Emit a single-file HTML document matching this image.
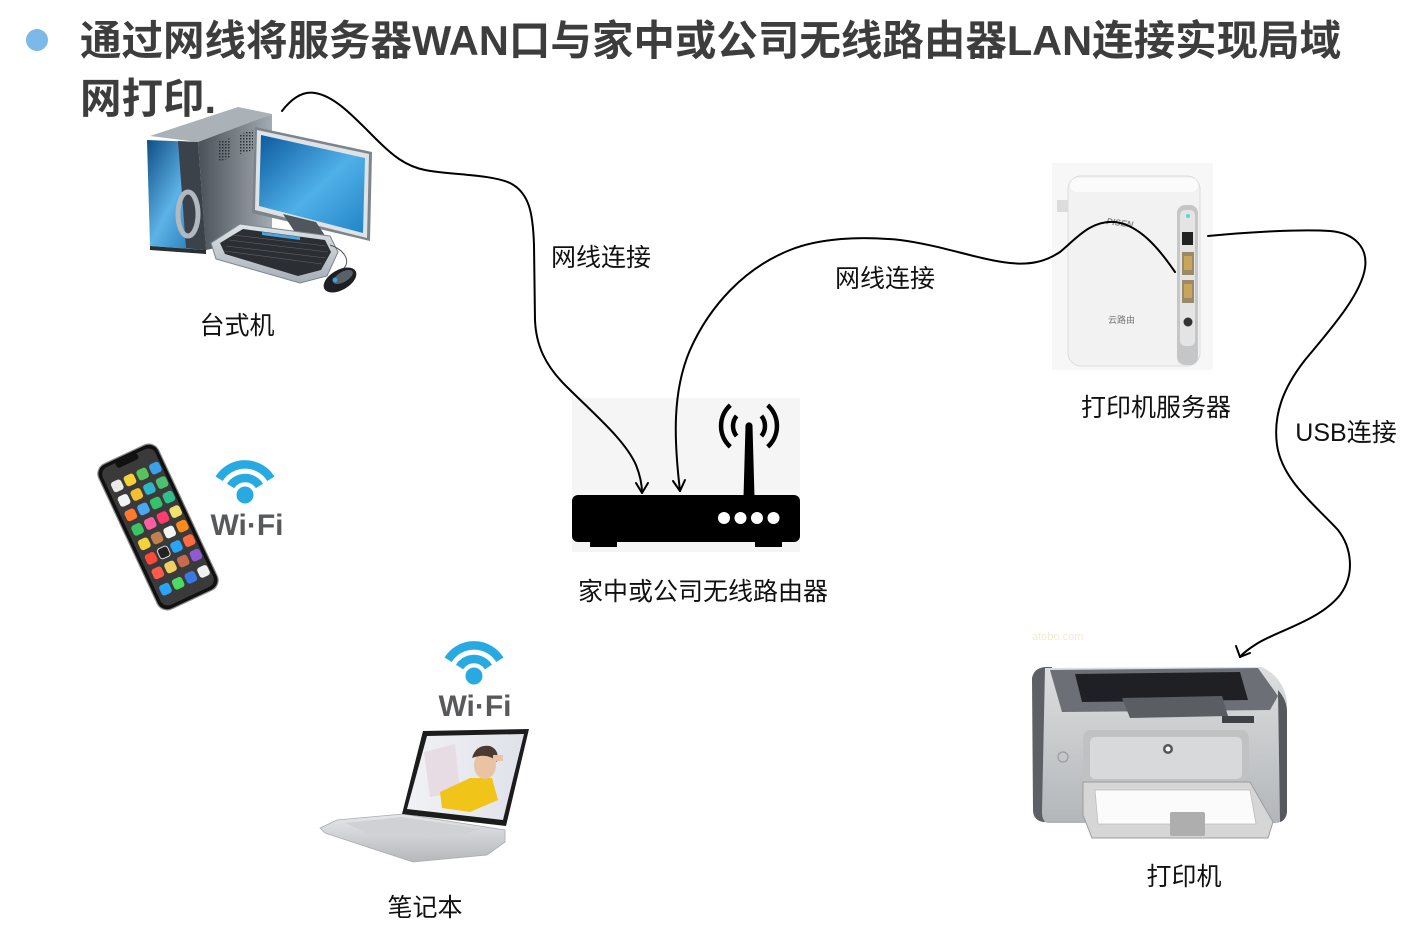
<!DOCTYPE html>
<html><head><meta charset="utf-8">
<style>
html,body{margin:0;padding:0;background:#fff;}
body{width:1411px;height:938px;position:relative;overflow:hidden;}
.title{position:absolute;left:80px;top:12px;font-family:"Liberation Sans","Noto Sans CJK SC",sans-serif;font-weight:bold;font-size:41.5px;line-height:58px;color:#3d3d3d;white-space:nowrap;}
.bullet{position:absolute;left:26px;top:29px;width:22px;height:22px;border-radius:50%;background:#7cb9e8;}
svg{position:absolute;left:0;top:0;}
</style></head>
<body>
<div class="bullet"></div>
<div class="title">通过网线将服务器WAN口与家中或公司无线路由器LAN连接实现局域<br>网打印.</div>
<svg width="1411" height="938" viewBox="0 0 1411 938" xmlns="http://www.w3.org/2000/svg">
<defs>
  <linearGradient id="tSide" x1="0" y1="0" x2="1" y2="0"><stop offset="0" stop-color="#4a5158"/><stop offset="1" stop-color="#a3abb2"/></linearGradient>
  <linearGradient id="tFront" x1="0" y1="0" x2="1" y2="1"><stop offset="0" stop-color="#0f4e85"/><stop offset="0.5" stop-color="#5db2e6"/><stop offset="1" stop-color="#1a6cab"/></linearGradient>
  <linearGradient id="scr" x1="0" y1="0" x2="1" y2="1"><stop offset="0" stop-color="#0c5a9e"/><stop offset="0.55" stop-color="#4fb0e8"/><stop offset="1" stop-color="#2384c6"/></linearGradient>
  <linearGradient id="kbd" x1="0" y1="0" x2="0" y2="1"><stop offset="0" stop-color="#dfe4e8"/><stop offset="1" stop-color="#a6aeb6"/></linearGradient>
  <linearGradient id="pBody" x1="0" y1="0" x2="0" y2="1"><stop offset="0" stop-color="#dcdedf"/><stop offset="1" stop-color="#b3b6b9"/></linearGradient>
  <linearGradient id="lBase" x1="0" y1="0" x2="0" y2="1"><stop offset="0" stop-color="#e6e7ea"/><stop offset="1" stop-color="#b6b8bc"/></linearGradient>
  <linearGradient id="lScr" x1="0" y1="0" x2="1" y2="0"><stop offset="0" stop-color="#f1f2f5"/><stop offset="1" stop-color="#dfe2e9"/></linearGradient>
  <pattern id="vent" width="3" height="3" patternUnits="userSpaceOnUse"><rect width="1.5" height="1.5" fill="#2e3338"/></pattern>
</defs>

<!-- ===== Desktop ===== -->
<g>
  <polygon points="150,136 238,107 272,114 198,142" fill="#aab1b7"/>
  <polygon points="198,142 272,114 272,236 206,250" fill="url(#tSide)"/>
  <polygon points="218,142 230,138 230,158 218,162" fill="url(#vent)"/>
  <polygon points="240,134 253,130 253,150 240,154" fill="url(#vent)"/>
  <polygon points="147,140 198,142 206,250 150,246" fill="url(#tFront)"/>
  <polygon points="178,141 198,142 206,250 186,248" fill="#3b4249"/>
  <ellipse cx="188" cy="214" rx="10" ry="22" fill="none" stroke="#b0b8c0" stroke-width="5"/>
  <polygon points="150,246 206,250 206,254 150,250" fill="#2a2f34"/>
  <!-- monitor -->
  <polygon points="255,127 372,152 370,241 252,213" fill="#7d848b"/>
  <polygon points="257,130 369,154 367,238 255,210" fill="#dfe3e6"/>
  <polygon points="261,135 365,158 363,233 259,206" fill="url(#scr)"/>
  <polygon points="283,214 316,222 328,240 300,240" fill="#50565c"/>
  <!-- keyboard -->
  <polygon points="211,243 240,224 330,236 338,252 327,276 300,283 216,259" fill="url(#kbd)" stroke="#7c848c" stroke-width="1"/>
  <polygon points="220,243 243,229 325,240 331,252 321,270 298,276 225,254" fill="#2b2e33"/>
  <polygon points="262,232 300,237 300,240 262,235" fill="#4aa6e0"/>
  <g stroke="#5f656c" stroke-width="0.6">
    <line x1="226" y1="246" x2="326" y2="258"/>
    <line x1="229" y1="240" x2="328" y2="252"/>
    <line x1="233" y1="235" x2="326" y2="246"/>
    <line x1="224" y1="251" x2="322" y2="264"/>
  </g>
  <path d="M330,245 C345,250 352,262 342,270" fill="none" stroke="#555" stroke-width="1"/>
  <ellipse cx="340" cy="280" rx="18" ry="10" transform="rotate(-30 340 280)" fill="#1d1f22"/>
  <ellipse cx="343" cy="277" rx="11" ry="5" transform="rotate(-30 343 277)" fill="#5a6068"/>
  <circle cx="335" cy="280" r="2.5" fill="#3aa0e0"/>
</g>

<!-- ===== Router ===== -->
<rect x="572" y="398" width="228" height="154" fill="#f5f5f5"/>
<rect x="572" y="495" width="228" height="47" rx="6" fill="#000"/>
<rect x="590" y="538" width="27" height="9" fill="#000"/>
<rect x="755" y="538" width="27" height="9" fill="#000"/>
<polygon points="745.5,426 752.5,426 754.5,497 743.5,497" fill="#000"/>
<circle cx="749" cy="426" r="3.6" fill="#000"/>
<g fill="none" stroke="#000" stroke-width="4.5">
  <path d="M736.6,415.9 A16,16 0 0 0 736.6,436.1"/>
  <path d="M761.4,415.9 A16,16 0 0 1 761.4,436.1"/>
  <path d="M730.3,405.2 A28,28 0 0 0 730.3,446.8"/>
  <path d="M767.7,405.2 A28,28 0 0 1 767.7,446.8"/>
</g>
<g fill="#fff">
  <circle cx="724" cy="518" r="6"/><circle cx="740.5" cy="518" r="6"/>
  <circle cx="757" cy="518" r="6"/><circle cx="773.5" cy="518" r="6"/>
</g>

<!-- ===== Print server ===== -->
<rect x="1052" y="163" width="161" height="207" fill="#f7f7f7"/>
<rect x="1057" y="200" width="13" height="12" fill="#dcdcdc"/>
<rect x="1068" y="176" width="132" height="190" rx="13" fill="#f2f2f2" stroke="#dcdcdc" stroke-width="1"/>
<rect x="1070" y="178" width="128" height="14" rx="7" fill="#fbfbfb"/>
<rect x="1177" y="205" width="21" height="160" rx="8" fill="#c5c6c8"/>
<rect x="1180" y="210" width="15" height="136" rx="5" fill="#e4e4e4"/>
<circle cx="1188" cy="216" r="2" fill="#5cd6d6"/>
<rect x="1182" y="232" width="11" height="13" fill="#222"/>
<rect x="1182" y="252" width="12" height="23" fill="#9a8a6a"/>
<rect x="1184" y="256" width="8" height="14" fill="#c9a55a"/>
<rect x="1182" y="280" width="12" height="23" fill="#9a8a6a"/>
<rect x="1184" y="284" width="8" height="14" fill="#c9a55a"/>
<circle cx="1188" cy="322" r="4.5" fill="#333"/>
<text x="1106" y="224" font-family="Liberation Sans,sans-serif" font-size="9" font-weight="bold" font-style="italic" fill="#8a8a8a" transform="rotate(8 1106 224)">PISEN</text>
<text x="1108" y="323" font-family="Liberation Sans,Noto Sans CJK SC,sans-serif" font-size="9" fill="#777">云路由</text>

<!-- ===== Phone ===== -->
<g transform="translate(158 527) rotate(-25)">
  <rect x="-33" y="-80" width="66" height="160" rx="11" fill="#111" stroke="#888" stroke-width="1.2"/>
  <rect x="-29" y="-76" width="58" height="152" rx="8" fill="#3a3a3a"/>
  <rect x="-12" y="-77" width="24" height="7" rx="3" fill="#111"/>
  <g>
    <rect x="-25" y="-60" width="11" height="11" rx="3" fill="#eaeaea"/><rect x="-11" y="-60" width="11" height="11" rx="3" fill="#f6d23a"/><rect x="3" y="-60" width="11" height="11" rx="3" fill="#58c35a"/><rect x="17" y="-60" width="11" height="11" rx="3" fill="#3aa0e8"/>
    <rect x="-25" y="-44" width="11" height="11" rx="3" fill="#f3f3f3"/><rect x="-11" y="-44" width="11" height="11" rx="3" fill="#f4c030"/><rect x="3" y="-44" width="11" height="11" rx="3" fill="#2fb5c8"/><rect x="17" y="-44" width="11" height="11" rx="3" fill="#4cc070"/>
    <rect x="-25" y="-28" width="11" height="11" rx="3" fill="#ff7a2a"/><rect x="-11" y="-28" width="11" height="11" rx="3" fill="#4aa8f0"/><rect x="3" y="-28" width="11" height="11" rx="3" fill="#34c26a"/><rect x="17" y="-28" width="11" height="11" rx="3" fill="#2fbf8f"/>
    <rect x="-25" y="-12" width="11" height="11" rx="3" fill="#3cc464"/><rect x="-11" y="-12" width="11" height="11" rx="3" fill="#ff5fa0"/><rect x="3" y="-12" width="11" height="11" rx="3" fill="#ff3b70"/><rect x="17" y="-12" width="11" height="11" rx="3" fill="#f0e070"/>
    <rect x="-25" y="4" width="11" height="11" rx="3" fill="#f6d23a"/><rect x="-11" y="4" width="11" height="11" rx="3" fill="#c08050"/><rect x="3" y="4" width="11" height="11" rx="3" fill="#f5f5f5"/><rect x="17" y="4" width="11" height="11" rx="3" fill="#ff8c1a"/>
    <rect x="-25" y="20" width="11" height="11" rx="3" fill="#ff4a3a"/><rect x="-11" y="20" width="11" height="11" rx="3" fill="#222" stroke="#ddd"/><rect x="3" y="20" width="11" height="11" rx="3" fill="#2aa4f4"/><rect x="17" y="20" width="11" height="11" rx="3" fill="#ff6a40"/>
    <rect x="-25" y="36" width="11" height="11" rx="3" fill="#ff5a4a"/><rect x="-11" y="36" width="11" height="11" rx="3" fill="#f0d060"/><rect x="3" y="36" width="11" height="11" rx="3" fill="#c86a50"/><rect x="17" y="36" width="11" height="11" rx="3" fill="#8e5bd0"/>
    <rect x="-25" y="54" width="11" height="11" rx="3" fill="#2aa4f4"/><rect x="-11" y="54" width="11" height="11" rx="3" fill="#4cd964"/><rect x="3" y="54" width="11" height="11" rx="3" fill="#3a7ae0"/><rect x="17" y="54" width="11" height="11" rx="3" fill="#f0f0f0"/>
  </g>
</g>

<!-- ===== WiFi icons ===== -->
<g fill="none" stroke="#27aae1" stroke-linecap="butt">
  <path d="M219.1,478.8 A30.5,30.5 0 0 1 270.9,478.8" stroke-width="8.5"/>
  <path d="M230.6,486 A17,17 0 0 1 259.4,486" stroke-width="8.5"/>
  <path d="M448.1,659.8 A30.5,30.5 0 0 1 499.9,659.8" stroke-width="8.5"/>
  <path d="M459.6,667 A17,17 0 0 1 488.4,667" stroke-width="8.5"/>
</g>
<circle cx="245" cy="495" r="8.5" fill="#27aae1"/>
<circle cx="474" cy="676" r="8.5" fill="#27aae1"/>
<text x="247" y="535" text-anchor="middle" font-family="Liberation Sans,sans-serif" font-weight="bold" font-size="30" fill="#58595b">Wi·Fi</text>
<text x="475" y="716" text-anchor="middle" font-family="Liberation Sans,sans-serif" font-weight="bold" font-size="30" fill="#58595b">Wi·Fi</text>

<!-- ===== Laptop ===== -->
<polygon points="320,828 337,820 403,814 505,830 505,842 487,855 413,862 325,833" fill="url(#lBase)" stroke="#a9abaf" stroke-width="0.8"/>
<polygon points="345,823 402,817 482,829 445,839 368,834" fill="#cfd1d4"/>
<polygon points="423,731 529,729 506,826 402,814" fill="#1c1c1c"/>
<polygon points="427,736 524,734 503,820 407,809" fill="url(#lScr)"/>
<polygon points="424,752 455,744 460,792 430,797" fill="#e7dbe4"/>
<polygon points="440,792 470,778 492,778 498,800 470,812 442,808" fill="#f0c419"/>
<ellipse cx="485" cy="765" rx="11" ry="14" fill="#e9c3a3"/>
<path d="M472,758 Q476,744 490,746 Q500,750 497,762 Q488,752 472,758 Z" fill="#4a3a30"/>
<rect x="493" y="755" width="10" height="6" fill="#e9c3a3"/>

<!-- ===== Printer ===== -->
<text x="1032" y="640" font-family="Liberation Sans,sans-serif" font-size="11" fill="#f2ecd4">atobo.com</text>
<path d="M1032,678 Q1034,668 1045,667 L1052,667 L1052,822 L1043,822 Q1033,820 1033,810 Z" fill="#5d6065"/>
<path d="M1045,668 L1262,667 Q1284,678 1287,702 L1287,812 Q1286,822 1276,823 L1048,823 Q1042,822 1042,812 Z" fill="url(#pBody)"/>
<path d="M1278,690 Q1287,700 1287,712 L1287,812 Q1286,820 1280,822 Z" fill="#55585d"/>
<polygon points="1050,670 1258,668 1278,696 1270,710 1062,712" fill="#6c7076"/>
<polygon points="1075,674 1240,672 1248,700 1082,702" fill="#1f2023"/>
<polygon points="1122,698 1222,696 1228,716 1130,718" fill="#5a5e63"/>
<rect x="1222" y="716" width="32" height="7" fill="#3e4146"/>
<circle cx="1063" cy="757" r="5" fill="none" stroke="#9a9c9f" stroke-width="1.2"/>
<rect x="1083" y="730" width="166" height="62" rx="8" fill="#bfc1c3"/>
<rect x="1090" y="737" width="152" height="42" rx="5" fill="#d7d9db"/>
<circle cx="1168" cy="749" r="5" fill="#555"/>
<circle cx="1168" cy="749" r="2.5" fill="#fff"/>
<polygon points="1083,782 1250,782 1273,822 1268,838 1092,838 1083,815" fill="#d6d6d6" stroke="#9c9c9c" stroke-width="1"/>
<polygon points="1095,790 1250,790 1256,824 1098,824" fill="#fbfbfb" stroke="#bdbdbd" stroke-width="0.8"/>
<rect x="1170" y="812" width="35" height="24" rx="2" fill="#aeaeae"/>

<!-- ===== Connectors ===== -->
<g fill="none" stroke="#000" stroke-width="2" stroke-linecap="round" stroke-linejoin="round">
  <path d="M282,111 C292,98 303,91 315,93 C335,96 355,118 375,138 C392,155 405,166 425,170 C450,175 490,174 510,183 C530,193 533,215 534,245 L535,320 C536,345 545,365 565,385 C595,415 625,440 636,465 C640,475 642,485 642,493"/>
  <polyline points="636,483 642,493 648,483"/>
  <path d="M1175,272 C1160,250 1140,225 1115,222 C1090,220 1075,240 1060,252 C1045,262 1030,265 1010,263 C980,260 940,245 900,240 C860,236 820,238 790,250 C745,268 710,305 690,350 C672,392 674,440 680,491"/>
  <polyline points="673,481 680,491 685,480"/>
  <path d="M1208,236 C1250,232 1300,229 1330,231 C1355,233 1368,248 1365,268 C1361,295 1330,330 1305,360 C1283,388 1273,415 1277,445 C1282,480 1315,505 1338,530 C1352,548 1355,575 1340,595 C1320,620 1280,630 1258,643 C1250,648 1244,652 1240,657"/>
  <polyline points="1236,646 1240,657 1250,653"/>
</g>

<!-- ===== Labels ===== -->
<g font-family="Liberation Sans,Noto Sans CJK SC,sans-serif" font-size="25" fill="#111" text-anchor="middle">
  <text x="601" y="266">网线连接</text>
  <text x="885" y="287">网线连接</text>
  <text x="237" y="334">台式机</text>
  <text x="703" y="600">家中或公司无线路由器</text>
  <text x="1156" y="416">打印机服务器</text>
  <text x="1346" y="441">USB连接</text>
  <text x="1184" y="885">打印机</text>
  <text x="425" y="916">笔记本</text>
</g>
</svg>
</body></html>
